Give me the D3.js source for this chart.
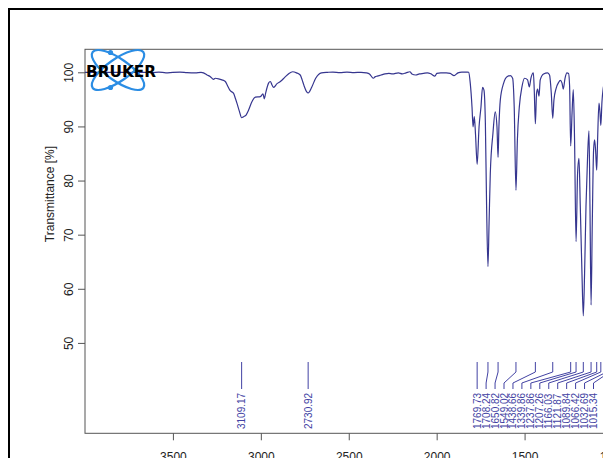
<!DOCTYPE html>
<html>
<head>
<meta charset="utf-8">
<script src="https://cdn.jsdelivr.net/npm/d3@7"></script>
<style>
  html, body { margin: 0; padding: 0; background: #fff; overflow: hidden; }
  svg { display: block; }
</style>
</head>
<body>
<svg id="chart" width="603" height="458"></svg>
<script>
// IR spectrum: wavenumber (cm-1) and transmittance (%)
const wavenumber = [
  4000, 3950, 3900, 3850, 3800, 3750, 3700, 3660, 3620, 3580, 3540, 3500, 3460, 3420,
  3373, 3340, 3326, 3306, 3287, 3269, 3259, 3240, 3221, 3202, 3192, 3174, 3155, 3145,
  3136, 3121, 3109.17, 3098, 3084, 3070, 3050, 3031, 3003, 2988, 2980, 2973, 2956, 2946,
  2937, 2927, 2908, 2889, 2863, 2840, 2819, 2797, 2776, 2765, 2754, 2739, 2730.92, 2710,
  2688, 2655, 2620, 2590, 2550, 2510, 2470, 2430, 2400, 2382, 2360, 2349, 2338, 2316,
  2294, 2272, 2251, 2218, 2196, 2174, 2152, 2141, 2119, 2098, 2076, 2053, 2032, 2010,
  1999, 1977, 1945, 1923, 1901, 1879, 1857, 1826, 1818, 1809, 1799, 1793, 1786, 1779,
  1769.73, 1759, 1748, 1739, 1731, 1723, 1716, 1708.24, 1702, 1695, 1680, 1667, 1657,
  1650.82, 1646, 1638, 1619, 1600, 1581, 1568, 1559, 1549.02, 1541, 1530, 1515, 1500,
  1483, 1473, 1464, 1450, 1445, 1438.66, 1432, 1426, 1418, 1411, 1392, 1369, 1358, 1348,
  1339.86, 1333, 1321, 1307, 1297, 1287, 1280, 1270, 1259, 1250, 1244, 1237.86, 1230,
  1223, 1216, 1207.26, 1198.6, 1190.6, 1183.2, 1173.6, 1166.03, 1158.8, 1150.8, 1141.7,
  1133.8, 1128.1, 1121.87, 1115, 1107.6, 1101.9, 1096.2, 1089.84, 1084.8, 1076.9, 1071,
  1066.42, 1060, 1053, 1045
];
const transmittance = [
  100.0, 100.0, 99.95, 100.0, 100.0, 99.95, 100.0, 100.0, 99.95, 100.05, 99.9, 100.0, 100.05, 99.95,
  99.9, 100.0, 99.9, 99.5, 99.2, 98.7, 98.9, 98.8, 98.6, 98.3, 97.7, 96.6, 96.1, 95.2,
  94.3, 92.7, 91.6, 91.8, 92.1, 93.0, 94.6, 95.4, 95.5, 96.0, 95.1, 96.1, 98.0, 98.3,
  97.7, 97.2, 97.9, 98.3, 99.1, 99.8, 100.1, 99.9, 99.5, 98.6, 97.5, 96.4, 96.2, 97.3,
  98.9, 99.9, 100.0, 100.05, 99.95, 100.05, 99.95, 100.0, 99.9, 99.7, 98.9, 99.2, 99.3, 99.5,
  99.7, 99.8, 99.7, 99.9, 99.7, 99.9, 100.1, 99.7, 99.5, 99.7, 99.8, 99.9, 99.7, 99.3,
  99.8, 99.9, 99.9, 99.8, 99.4, 99.9, 100.05, 100.05, 100.0, 98.0, 93.6, 89.9, 91.8, 88.5,
  83.0, 89.9, 93.6, 97.2, 96.7, 90.6, 75.2, 64.1, 72.1, 81.3, 88.7, 92.7, 89.9,
  84.3, 89.9, 94.9, 98.0, 99.2, 99.4, 98.9, 93.6, 78.2, 87.5, 93.6, 97.3, 98.9,
  98.6, 97.3, 98.9, 99.9, 96.7, 90.5, 96.1, 96.9, 95.6, 98.6, 99.7, 99.9, 99.5, 96.1,
  91.5, 94.9, 97.0, 98.1, 98.5, 98.0, 96.9, 98.9, 99.9, 99.8, 97.5, 86.4, 92.5,
  96.8, 88.0, 68.7, 81.3, 84.1, 75.2, 62.8, 55.0, 62.8, 75.2, 84.4,
  89.2, 75.2, 57.0, 72.1, 85.6, 87.5, 85.6, 81.9, 87.5, 94.3, 92.5,
  90.2, 94.5, 97.0, 98.0
];

// Picked peaks (cm-1)
const peakWavenumbers = [
  3109.17, 2730.92, 1769.73, 1708.24, 1650.82, 1549.02, 1438.66, 1339.86,
  1237.86, 1207.26, 1166.03, 1121.87, 1089.84, 1066.42, 1032.69, 1015.34
];

const xTickValues = [3500, 3000, 2500, 2000, 1500, 1000, 500];
const yTickValues = [50, 60, 70, 80, 90, 100];
const yTitle = "Transmittance [%]";
const brandName = "BRUKER";

const FONT = "'Liberation Sans', Arial, Helvetica, sans-serif";
const LINE_COLOR = "#36368f";
const PEAK_COLOR = "#4242a3";
const AXIS_COLOR = "#555";

const svg = d3.select("#chart");

// plot frame geometry
const plot = { left: 85, top: 49.3, right: 718, bottom: 433.3 };

const x = d3.scaleLinear().domain([4000, 400]).range([plot.left, plot.right]);
const y = d3.scaleLinear().domain([33.3, 104.25]).range([plot.bottom, plot.top]);

// outer page frame
svg.append("rect")
  .attr("x", 9).attr("y", 9)
  .attr("width", 760).attr("height", 620)
  .attr("fill", "none").attr("stroke", "#000").attr("stroke-width", 2);

// plot box
svg.append("rect")
  .attr("x", plot.left).attr("y", plot.top)
  .attr("width", plot.right - plot.left).attr("height", plot.bottom - plot.top)
  .attr("fill", "none").attr("stroke", AXIS_COLOR).attr("stroke-width", 1);

// x axis
const xAxis = svg.append("g")
  .attr("transform", `translate(0,${plot.bottom})`)
  .call(d3.axisBottom(x).tickValues(xTickValues).tickSize(7).tickSizeOuter(0).tickFormat(d3.format("d")));
xAxis.select(".domain").remove();
xAxis.selectAll("line").attr("stroke", AXIS_COLOR);
xAxis.selectAll("text")
  .attr("y", 28).attr("dy", 0)
  .attr("font-family", FONT).attr("font-size", 12).attr("fill", "#222");

// y axis
const yAxis = svg.append("g")
  .attr("transform", `translate(${plot.left},0)`)
  .call(d3.axisLeft(y).tickValues(yTickValues).tickSize(7).tickSizeOuter(0));
yAxis.select(".domain").remove();
yAxis.selectAll("line").attr("stroke", AXIS_COLOR);
yAxis.selectAll("text")
  .attr("x", 0).attr("y", 0).attr("dy", 0)
  .attr("text-anchor", "middle")
  .attr("transform", "translate(-12,0) rotate(-90)")
  .attr("font-family", FONT).attr("font-size", 12).attr("fill", "#222");

// y axis title
svg.append("text")
  .attr("transform", "translate(54,194) rotate(-90)")
  .attr("text-anchor", "middle")
  .attr("font-family", FONT).attr("font-size", 12).attr("fill", "#222")
  .text(yTitle);

// spectrum
svg.append("clipPath").attr("id", "plot-clip")
  .append("rect")
  .attr("x", plot.left).attr("y", plot.top)
  .attr("width", plot.right - plot.left).attr("height", plot.bottom - plot.top);

const spectrum = wavenumber.map((w, i) => [w, transmittance[i]]);
svg.append("path")
  .datum(spectrum)
  .attr("clip-path", "url(#plot-clip)")
  .attr("fill", "none")
  .attr("stroke", LINE_COLOR)
  .attr("stroke-width", 1.2)
  .attr("stroke-linejoin", "round")
  .attr("d", d3.line().x(d => x(d[0])).y(d => y(d[1])).curve(d3.curveMonotoneX));

// peak labels: peaks closer than the cluster gap share a stacked row of labels
const LABEL_GAP = 8.95, CLUSTER_GAP = 30;
const peakX = peakWavenumbers.map(w => x(w));
const labelX = [];
peakX.forEach((px, i) => {
  if (i > 0 && px - peakX[i - 1] < CLUSTER_GAP) labelX.push(labelX[i - 1] + LABEL_GAP);
  else labelX.push(px);
});

const lead = { top: 362, bend1: 372, bend2: 383, bottom: 389, text: 429 };
const peaks = svg.append("g");
peaks.selectAll("path")
  .data(peakWavenumbers)
  .join("path")
  .attr("fill", "none").attr("stroke", PEAK_COLOR).attr("stroke-width", 1)
  .attr("d", (w, i) => `M${x(w)},${lead.top}V${lead.bend1}L${labelX[i]},${lead.bend2}V${lead.bottom}`);
peaks.selectAll("text")
  .data(peakWavenumbers)
  .join("text")
  .attr("transform", (w, i) => `translate(${labelX[i]},${lead.text}) rotate(-90)`)
  .attr("dy", "0.35em")
  .attr("font-family", FONT).attr("font-size", 10).attr("fill", PEAK_COLOR)
  .text(w => w.toFixed(2));

// brand mark in the upper-left corner of the plot
const logo = svg.append("g").attr("transform", "translate(118,70)");
[35, -35].forEach(a => {
  logo.append("ellipse")
    .attr("rx", 31).attr("ry", 11)
    .attr("transform", `rotate(${a})`)
    .attr("fill", "none").attr("stroke", "#2b8de4").attr("stroke-width", 2.2);
});
[[-7.5, -17.5], [-7.5, 17.5]].forEach(p => {
  logo.append("circle").attr("cx", p[0]).attr("cy", p[1]).attr("r", 2.6).attr("fill", "#2b8de4");
});
svg.append("text")
  .attr("x", 86).attr("y", 77)
  .attr("font-family", "'DejaVu Sans', sans-serif").attr("font-weight", "bold")
  .attr("font-size", 15).attr("fill", "#000")
  .attr("textLength", 70).attr("lengthAdjust", "spacingAndGlyphs")
  .text(brandName);
</script>
</body>
</html>
